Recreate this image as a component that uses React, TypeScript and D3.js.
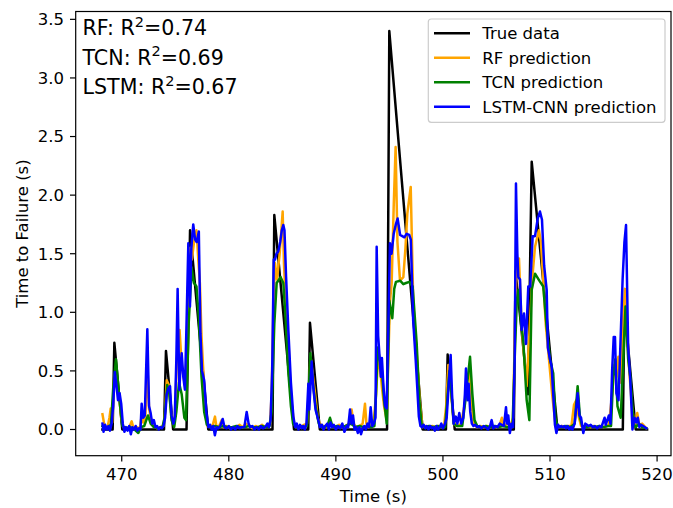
import React from "react";
import * as d3 from "d3";

// Time to failure: observed values and three model predictions, as [time (s), value (s)] samples
const trueData: [number, number][] = [
  [468.2, 0], [469.15, 0], [469.31, 0.74], [470.05, 0], [473.95, 0], [474.13, 0.67], [474.8, 0],
  [476.05, 0], [476.38, 1.7], [478.08, 0], [484.08, 0], [484.25, 1.83], [486.09, 0], [487.42, 0],
  [487.58, 0.91], [488.5, 0], [494.78, 0], [494.99, 3.4], [498.1, 0], [500.28, 0], [500.44, 0.64],
  [501.1, 0], [506.62, 0], [506.78, 1.35], [507.95, 0.3], [508.29, 2.285], [510.7, 0], [516.8, 0],
  [516.95, 1.05], [518.0, 0], [519.07, 0],
];

const rfPred: [number, number][] = [
  [468.2, 0.13], [468.35, 0.05], [468.5, 0.02], [468.7, 0.03], [468.85, 0.1], [468.97, 0.18], [469.1, 0.06],
  [469.3, 0.45], [469.45, 0.5], [469.6, 0.32], [469.8, 0.25], [469.95, 0.1], [470.15, 0.02], [470.4, 0.01],
  [470.7, 0.02], [470.93, 0.07], [471.1, 0.01], [471.4, 0.02], [471.7, 0.01], [471.86, 0.12], [472.0, 0.06],
  [472.2, 0.1], [472.4, 0.55], [472.55, 0.18], [472.75, 0.08], [473.0, 0.03], [473.3, 0.01], [473.6, 0.02],
  [473.9, 0.03], [474.05, 0.15], [474.2, 0.42], [474.4, 0.38], [474.6, 0.15], [474.8, 0.05], [474.95, 0.08],
  [475.15, 0.6], [475.4, 0.85], [475.6, 0.55], [475.9, 0.38], [476.05, 0.6], [476.25, 1.4], [476.4, 1.55],
  [476.55, 1.45], [476.75, 1.6], [476.98, 1.7], [477.15, 1.45], [477.3, 1.25], [477.45, 0.8], [477.6, 0.53],
  [477.8, 0.15], [478.0, 0.03], [478.3, 0.02], [478.5, 0.04], [478.71, 0.11], [478.85, 0.02], [479.1, 0.03],
  [479.33, 0.08], [479.5, 0.02], [479.8, 0.03], [480.1, 0.01], [480.4, 0.02], [480.7, 0.02], [481.0, 0.04],
  [481.3, 0.02], [481.6, 0.05], [481.9, 0.03], [482.2, 0.01], [482.5, 0.03], [482.8, 0.02], [483.1, 0.04],
  [483.4, 0.02], [483.7, 0.03], [483.85, 0.05], [484.0, 0.3], [484.15, 1.0], [484.31, 1.42], [484.5, 1.28],
  [484.75, 1.5], [485.03, 1.86], [485.15, 1.42], [485.35, 1.0], [485.56, 0.77], [485.8, 0.28], [486.1, 0.05],
  [486.4, 0.03], [486.7, 0.02], [487.0, 0.04], [487.3, 0.05], [487.45, 0.25], [487.62, 0.62], [487.8, 0.5],
  [488.05, 0.31], [488.3, 0.1], [488.5, 0.05], [488.8, 0.03], [489.1, 0.02], [489.4, 0.05], [489.7, 0.03],
  [490.0, 0.02], [490.3, 0.04], [490.6, 0.02], [490.9, 0.03], [491.2, 0.05], [491.47, 0.17], [491.65, 0.05],
  [491.9, 0.02], [492.2, 0.03], [492.5, 0.05], [492.72, 0.22], [492.85, 0.05], [493.05, 0.02], [493.3, 0.04],
  [493.55, 0.08], [493.75, 0.3], [493.97, 0.65], [494.15, 0.5], [494.3, 0.36], [494.5, 0.2], [494.74, 0.08],
  [494.9, 0.6], [495.05, 1.09], [495.21, 1.25], [495.4, 1.9], [495.58, 2.41], [495.75, 1.6], [495.99, 1.27],
  [496.3, 1.3], [496.5, 1.55], [496.67, 1.84], [496.99, 2.07], [497.23, 1.07], [497.55, 0.65], [497.86, 0.22],
  [498.1, 0.02], [498.4, 0.03], [498.7, 0.02], [499.0, 0.03], [499.3, 0.02], [499.6, 0.03], [499.9, 0.02],
  [500.1, 0.03], [500.3, 0.2], [500.5, 0.55], [500.7, 0.45], [500.9, 0.15], [501.1, 0.04], [501.4, 0.03],
  [501.7, 0.05], [502.0, 0.2], [502.3, 0.45], [502.5, 0.5], [502.7, 0.2], [502.9, 0.04], [503.2, 0.02],
  [503.5, 0.03], [503.8, 0.02], [504.1, 0.03], [504.4, 0.02], [504.7, 0.03], [505.0, 0.02], [505.3, 0.04],
  [505.5, 0.1], [505.7, 0.03], [506.0, 0.05], [506.3, 0.03], [506.55, 0.1], [506.75, 1.0], [506.9, 1.46],
  [507.1, 1.46], [507.35, 0.88], [507.6, 0.6], [507.82, 0.37], [508.13, 0.91], [508.35, 1.3], [508.6, 1.56],
  [508.97, 1.7], [509.15, 1.6], [509.37, 1.27], [509.6, 0.9], [509.9, 0.6], [510.2, 0.3], [510.5, 0.05],
  [510.8, 0.02], [511.1, 0.03], [511.4, 0.02], [511.7, 0.03], [512.0, 0.03], [512.24, 0.21], [512.45, 0.25],
  [512.7, 0.1], [512.9, 0.03], [513.2, 0.02], [513.5, 0.03], [513.8, 0.02], [514.1, 0.03], [514.4, 0.02],
  [514.7, 0.03], [515.0, 0.02], [515.3, 0.03], [515.5, 0.04], [515.8, 0.3], [516.0, 0.55], [516.2, 0.45],
  [516.38, 0.62], [516.6, 0.4], [516.8, 0.9], [517.0, 1.2], [517.2, 0.85], [517.4, 0.5], [517.65, 0.2],
  [517.9, 0.03], [518.15, 0.14], [518.35, 0.03], [518.6, 0.05], [519.0, 0.01],
];

const tcnPred: [number, number][] = [
  [468.2, 0.03], [468.5, 0.02], [468.8, 0.01], [469.0, 0.05], [469.2, 0.35], [469.46, 0.6], [469.65, 0.4],
  [469.85, 0.2], [470.05, 0.03], [470.4, 0.01], [470.8, 0.02], [471.2, 0.0], [471.55, -0.03], [471.8, 0.02],
  [472.1, 0.03], [472.45, 0.12], [472.7, 0.05], [473.0, 0.02], [473.4, 0.01], [473.8, 0.02], [474.0, 0.1],
  [474.25, 0.38], [474.45, 0.3], [474.65, 0.08], [474.9, 0.02], [475.1, 0.15], [475.35, 0.4], [475.6, 0.3],
  [475.85, 0.1], [476.0, 0.08], [476.25, 0.9], [476.53, 1.375], [476.75, 1.25], [476.98, 1.22], [477.2, 0.95],
  [477.45, 0.45], [477.7, 0.15], [477.95, 0.04], [478.3, 0.02], [478.7, 0.03], [479.1, 0.02], [479.5, 0.03],
  [479.9, 0.02], [480.3, 0.02], [480.7, 0.03], [481.1, 0.02], [481.5, 0.02], [481.9, 0.03], [482.3, 0.02],
  [482.7, 0.02], [483.1, 0.03], [483.5, 0.02], [483.8, 0.03], [484.0, 0.15], [484.25, 0.9], [484.47, 1.25],
  [484.84, 1.3], [485.09, 1.25], [485.3, 0.95], [485.55, 0.5], [485.8, 0.2], [486.0, 0.05], [486.3, 0.02],
  [486.7, 0.03], [487.0, 0.02], [487.3, 0.03], [487.45, 0.3], [487.62, 0.65], [487.85, 0.4], [488.1, 0.2],
  [488.4, 0.05], [488.7, 0.02], [489.2, 0.03], [489.45, 0.1], [489.7, 0.02], [490.1, 0.03], [490.5, 0.02],
  [490.9, 0.03], [491.4, 0.05], [491.8, 0.02], [492.2, 0.03], [492.6, 0.02], [493.0, 0.03], [493.3, 0.02],
  [493.6, 0.03], [493.75, 0.3], [493.9, 0.7], [494.1, 0.6], [494.3, 0.5], [494.5, 0.25], [494.75, 0.05],
  [494.99, 1.1], [495.27, 0.95], [495.45, 1.2], [495.61, 1.26], [496.0, 1.27], [496.3, 1.24], [496.55, 1.25],
  [496.86, 1.26], [497.17, 1.22], [497.55, 0.73], [497.8, 0.25], [498.0, 0.05], [498.3, 0.02], [498.7, 0.03],
  [499.1, 0.02], [499.5, 0.03], [499.9, 0.02], [500.2, 0.02], [500.4, 0.25], [500.6, 0.5], [500.8, 0.3],
  [501.0, 0.05], [501.3, 0.03], [501.8, 0.03], [502.1, 0.25], [502.53, 0.62], [502.75, 0.3], [502.95, 0.08],
  [503.2, 0.03], [503.6, 0.02], [504.0, 0.03], [504.4, 0.02], [504.8, 0.03], [505.2, 0.02], [505.6, 0.03],
  [506.0, 0.02], [506.5, 0.03], [506.7, 0.6], [506.9, 1.1], [507.04, 1.19], [507.3, 0.9], [507.5, 0.76],
  [507.82, 0.25], [508.07, 0.08], [508.29, 1.19], [508.6, 1.33], [509.0, 1.27], [509.37, 1.22], [509.68, 0.88],
  [510.0, 0.6], [510.3, 0.48], [510.5, 0.1], [510.7, 0.03], [511.1, 0.02], [511.5, 0.03], [511.9, 0.02],
  [512.3, 0.05], [512.58, 0.37], [512.8, 0.1], [513.0, 0.03], [513.4, 0.02], [513.8, 0.03], [514.2, 0.02],
  [514.6, 0.03], [515.0, 0.02], [515.4, 0.03], [515.7, 0.03], [515.9, 0.45], [516.1, 0.6], [516.3, 0.2],
  [516.6, 0.1], [516.8, 0.5], [517.05, 1.05], [517.3, 0.6], [517.5, 0.45], [517.8, 0.05], [518.0, 0.02],
  [518.3, 0.05], [518.6, 0.02], [519.0, 0.01],
];

const lstmPred: [number, number][] = [
  [468.2, 0.05], [468.3, -0.02], [468.45, 0.04], [468.6, 0.0], [468.75, 0.03], [468.9, -0.01], [469.05, 0.05],
  [469.2, 0.2], [469.35, 0.49], [469.5, 0.38], [469.65, 0.25], [469.8, 0.31], [469.95, 0.22], [470.1, 0.05],
  [470.25, -0.02], [470.4, 0.02], [470.55, -0.01], [470.7, 0.03], [470.85, -0.04], [471.0, 0.02], [471.15, 0.0],
  [471.3, 0.03], [471.45, -0.01], [471.6, 0.01], [471.75, 0.0], [471.86, 0.22], [472.0, 0.1], [472.15, 0.12],
  [472.39, 0.855], [472.55, 0.2], [472.7, 0.14], [472.85, 0.05], [473.0, 0.08], [473.15, 0.02], [473.3, 0.03],
  [473.45, 0.0], [473.6, 0.02], [473.75, 0.01], [473.9, 0.03], [474.05, 0.1], [474.2, 0.3], [474.35, 0.35],
  [474.51, 0.37], [474.65, 0.12], [474.82, 0.05], [474.95, 0.1], [475.1, 0.6], [475.22, 1.2], [475.38, 0.34],
  [475.5, 0.55], [475.6, 0.65], [475.75, 0.45], [475.9, 0.34], [476.05, 0.9], [476.22, 1.59], [476.37, 1.05],
  [476.5, 1.55], [476.68, 1.75], [476.85, 1.62], [477.0, 1.6], [477.2, 1.69], [477.35, 0.82], [477.5, 0.5],
  [477.7, 0.42], [477.9, 0.15], [478.09, 0.02], [478.25, 0.04], [478.4, 0.0], [478.55, 0.03], [478.7, -0.05],
  [478.85, 0.02], [479.0, 0.01], [479.2, 0.03], [479.43, 0.09], [479.6, 0.02], [479.8, 0.01], [480.0, 0.03],
  [480.2, 0.0], [480.4, 0.02], [480.6, 0.0], [480.8, 0.03], [481.0, 0.01], [481.2, 0.02], [481.45, 0.02],
  [481.67, 0.15], [481.85, 0.05], [482.0, 0.02], [482.2, 0.03], [482.4, 0.0], [482.6, 0.02], [482.8, 0.0],
  [483.0, 0.03], [483.2, 0.01], [483.4, 0.02], [483.6, 0.05], [483.75, 0.02], [483.9, 0.08], [484.05, 0.5],
  [484.2, 1.45], [484.31, 1.45], [484.45, 1.5], [484.62, 1.52], [484.8, 1.6], [484.95, 1.7], [485.09, 1.745],
  [485.2, 1.7], [485.35, 1.3], [485.56, 0.85], [485.8, 0.4], [486.03, 0.11], [486.2, 0.02], [486.35, 0.05],
  [486.5, 0.0], [486.65, 0.04], [486.8, 0.01], [486.95, 0.03], [487.1, 0.0], [487.25, 0.05], [487.43, 0.39],
  [487.52, 0.17], [487.74, 0.58], [487.9, 0.35], [488.1, 0.17], [488.3, 0.1], [488.52, 0.02], [488.7, 0.04],
  [488.85, 0.0], [489.0, 0.03], [489.2, 0.05], [489.35, 0.0], [489.5, 0.06], [489.65, 0.02], [489.8, 0.04],
  [490.0, 0.0], [490.2, 0.03], [490.4, 0.01], [490.6, 0.05], [490.8, -0.02], [491.0, 0.03], [491.15, 0.02],
  [491.32, 0.17], [491.45, 0.05], [491.6, 0.12], [491.75, 0.0], [491.9, 0.02], [492.05, -0.03], [492.2, 0.02],
  [492.35, -0.04], [492.5, 0.01], [492.65, 0.03], [492.8, 0.0], [492.95, 0.05], [493.1, 0.02], [493.25, 0.19],
  [493.4, 0.03], [493.55, 0.05], [493.7, 0.1], [493.81, 1.56], [493.95, 0.8], [494.06, 0.65], [494.2, 0.45],
  [494.3, 0.61], [494.45, 0.36], [494.6, 0.2], [494.74, 0.18], [494.85, 0.65], [495.05, 1.59], [495.2, 1.5],
  [495.4, 1.67], [495.6, 1.75], [495.77, 1.8], [496.0, 1.66], [496.2, 1.65], [496.4, 1.64], [496.6, 1.67],
  [496.85, 1.66], [497.0, 1.62], [497.22, 0.93], [497.45, 0.6], [497.6, 0.36], [497.75, 0.11], [497.9, 0.03],
  [498.05, 0.02], [498.2, 0.04], [498.35, 0.01], [498.5, 0.03], [498.65, 0.0], [498.8, 0.03], [498.95, 0.01],
  [499.1, 0.02], [499.25, -0.01], [499.4, 0.03], [499.55, 0.0], [499.7, 0.02], [499.85, 0.05], [500.0, 0.01],
  [500.2, 0.05], [500.35, 0.1], [500.55, 0.4], [500.72, 0.636], [500.85, 0.3], [501.0, 0.05], [501.2, 0.11],
  [501.35, 0.05], [501.53, 0.14], [501.7, 0.05], [501.9, 0.1], [502.05, 0.3], [502.15, 0.52], [502.3, 0.25],
  [502.4, 0.39], [502.55, 0.15], [502.7, 0.05], [502.85, 0.03], [503.0, 0.04], [503.2, 0.02], [503.4, 0.03],
  [503.6, 0.01], [503.8, 0.03], [504.0, 0.02], [504.2, 0.0], [504.4, 0.03], [504.55, 0.08], [504.7, 0.01],
  [504.9, 0.03], [505.1, 0.02], [505.3, 0.05], [505.5, 0.04], [505.7, 0.03], [505.89, 0.19], [506.0, 0.05],
  [506.1, 0.12], [506.25, -0.03], [506.4, 0.05], [506.55, 0.02], [506.7, 0.6], [506.82, 2.1], [506.95, 1.5],
  [507.04, 1.3], [507.2, 1.28], [507.35, 0.85], [507.57, 0.99], [507.75, 0.73], [507.97, 1.22], [508.15, 1.22],
  [508.38, 1.65], [508.6, 1.65], [508.85, 1.8], [509.06, 1.86], [509.25, 1.79], [509.45, 1.4], [509.69, 1.19],
  [509.8, 0.7], [510.0, 0.6], [510.15, 0.54], [510.3, 0.3], [510.46, 0.04], [510.6, -0.03], [510.75, 0.04],
  [510.9, 0.02], [511.05, 0.03], [511.2, 0.02], [511.35, 0.03], [511.5, 0.01], [511.65, 0.03], [511.8, 0.0],
  [511.95, 0.02], [512.1, 0.0], [512.3, 0.05], [512.58, 0.31], [512.75, 0.12], [512.9, 0.1], [513.11, -0.03],
  [513.3, 0.05], [513.45, 0.04], [513.6, 0.03], [513.8, 0.04], [514.0, 0.02], [514.2, 0.03], [514.4, 0.01],
  [514.6, 0.03], [514.8, 0.02], [515.1, 0.1], [515.2, 0.04], [515.5, 0.12], [515.65, 0.05], [515.8, 0.5],
  [515.95, 0.79], [516.07, 0.79], [516.2, 0.31], [516.4, 0.25], [516.78, 1.28], [516.95, 1.6], [517.1, 1.745],
  [517.3, 0.7], [517.5, 0.42], [517.7, 0.0], [517.9, 0.1], [518.05, 0.06], [518.2, 0.1], [518.35, 0.02],
  [518.5, 0.04], [518.7, 0.03], [519.0, 0.01],
];

const seriesNames = ["True data", "RF prediction", "TCN prediction", "LSTM-CNN prediction"];
const seriesColors = ["#000000", "#ffa500", "#008000", "#0000ff"];
const allSeries = [trueData, rfPred, tcnPred, lstmPred];

const xTicks = [470, 480, 490, 500, 510, 520];
const yTicks = [0, 0.5, 1, 1.5, 2, 2.5, 3, 3.5];

const scoreModels = ["RF", "TCN", "LSTM"];
const scoreValues = ["0.74", "0.69", "0.67"];

const W = 673;
const H = 508;
const plot = { left: 75.7, right: 671, top: 11.5, bottom: 455.7 };
const FONT = "DejaVu Sans, sans-serif";
const TICK = 16.5;
const LW = 2.5;

export default function App() {
  const x = d3.scaleLinear().domain([465.7, 521.3]).range([plot.left, plot.right]);
  const y = d3.scaleLinear().domain([-0.2236, 3.567]).range([plot.bottom, plot.top]);
  const line = d3
    .line<[number, number]>()
    .x((d) => x(d[0]))
    .y((d) => y(d[1]));

  const legend = { x: 428.3, y: 19, w: 236.7, h: 103.3 };
  const rowY = [33.3, 57.7, 82.3, 106.7];

  return (
    <svg width={W} height={H} style={{ display: "block", position: "absolute", left: 0, top: 0 }}>
      <rect x={0} y={0} width={W} height={H} fill="#fff" />
      <defs>
        <clipPath id="plot-area">
          <rect x={plot.left} y={plot.top} width={plot.right - plot.left} height={plot.bottom - plot.top} />
        </clipPath>
      </defs>

      <g clipPath="url(#plot-area)">
        {allSeries.map((s, i) => (
          <path
            key={seriesNames[i]}
            d={line(s) ?? ""}
            fill="none"
            stroke={seriesColors[i]}
            strokeWidth={LW}
            strokeLinejoin="round"
            strokeLinecap="square"
          />
        ))}
      </g>

      {/* axes frame */}
      <rect
        x={plot.left}
        y={plot.top}
        width={plot.right - plot.left}
        height={plot.bottom - plot.top}
        fill="none"
        stroke="#000"
        strokeWidth={1.2}
      />

      {/* x axis ticks */}
      {xTicks.map((t) => (
        <g key={`x${t}`}>
          <line x1={x(t)} x2={x(t)} y1={plot.bottom} y2={plot.bottom + 5.7} stroke="#000" strokeWidth={1.2} />
          <text x={x(t)} y={479.5} textAnchor="middle" fontFamily={FONT} fontSize={TICK} fill="#000">
            {t}
          </text>
        </g>
      ))}
      {/* y axis ticks */}
      {yTicks.map((t) => (
        <g key={`y${t}`}>
          <line x1={plot.left - 5.7} x2={plot.left} y1={y(t)} y2={y(t)} stroke="#000" strokeWidth={1.2} />
          <text
            x={plot.left - 11.6}
            y={y(t)}
            dy="0.36em"
            textAnchor="end"
            fontFamily={FONT}
            fontSize={TICK}
            fill="#000"
          >
            {t.toFixed(1)}
          </text>
        </g>
      ))}

      <text x={(plot.left + plot.right) / 2} y={502} textAnchor="middle" fontFamily={FONT} fontSize={TICK}>
        Time (s)
      </text>
      <text
        transform={`translate(28, ${(plot.top + plot.bottom) / 2}) rotate(-90)`}
        textAnchor="middle"
        fontFamily={FONT}
        fontSize={TICK}
      >
        Time to Failure (s)
      </text>

      {/* R² scores */}
      {scoreModels.map((m, i) => (
        <text key={m} x={82.5} y={35 + i * 29.7} fontFamily={FONT} fontSize={20.6} fill="#000">
          {`${m}: R`}
          <tspan fontSize={14.5} dy={-8.5}>2</tspan>
          <tspan dy={8.5}>{`=${scoreValues[i]}`}</tspan>
        </text>
      ))}

      {/* legend */}
      <rect
        x={legend.x}
        y={legend.y}
        width={legend.w}
        height={legend.h}
        rx={3}
        fill="#fff"
        fillOpacity={0.8}
        stroke="#cccccc"
        strokeWidth={1.2}
      />
      {seriesNames.map((n, i) => (
        <g key={n}>
          <line x1={434} x2={470} y1={rowY[i]} y2={rowY[i]} stroke={seriesColors[i]} strokeWidth={LW} />
          <text x={482.3} y={rowY[i]} dy="0.36em" fontFamily={FONT} fontSize={TICK} fill="#000">
            {n}
          </text>
        </g>
      ))}
    </svg>
  );
}
